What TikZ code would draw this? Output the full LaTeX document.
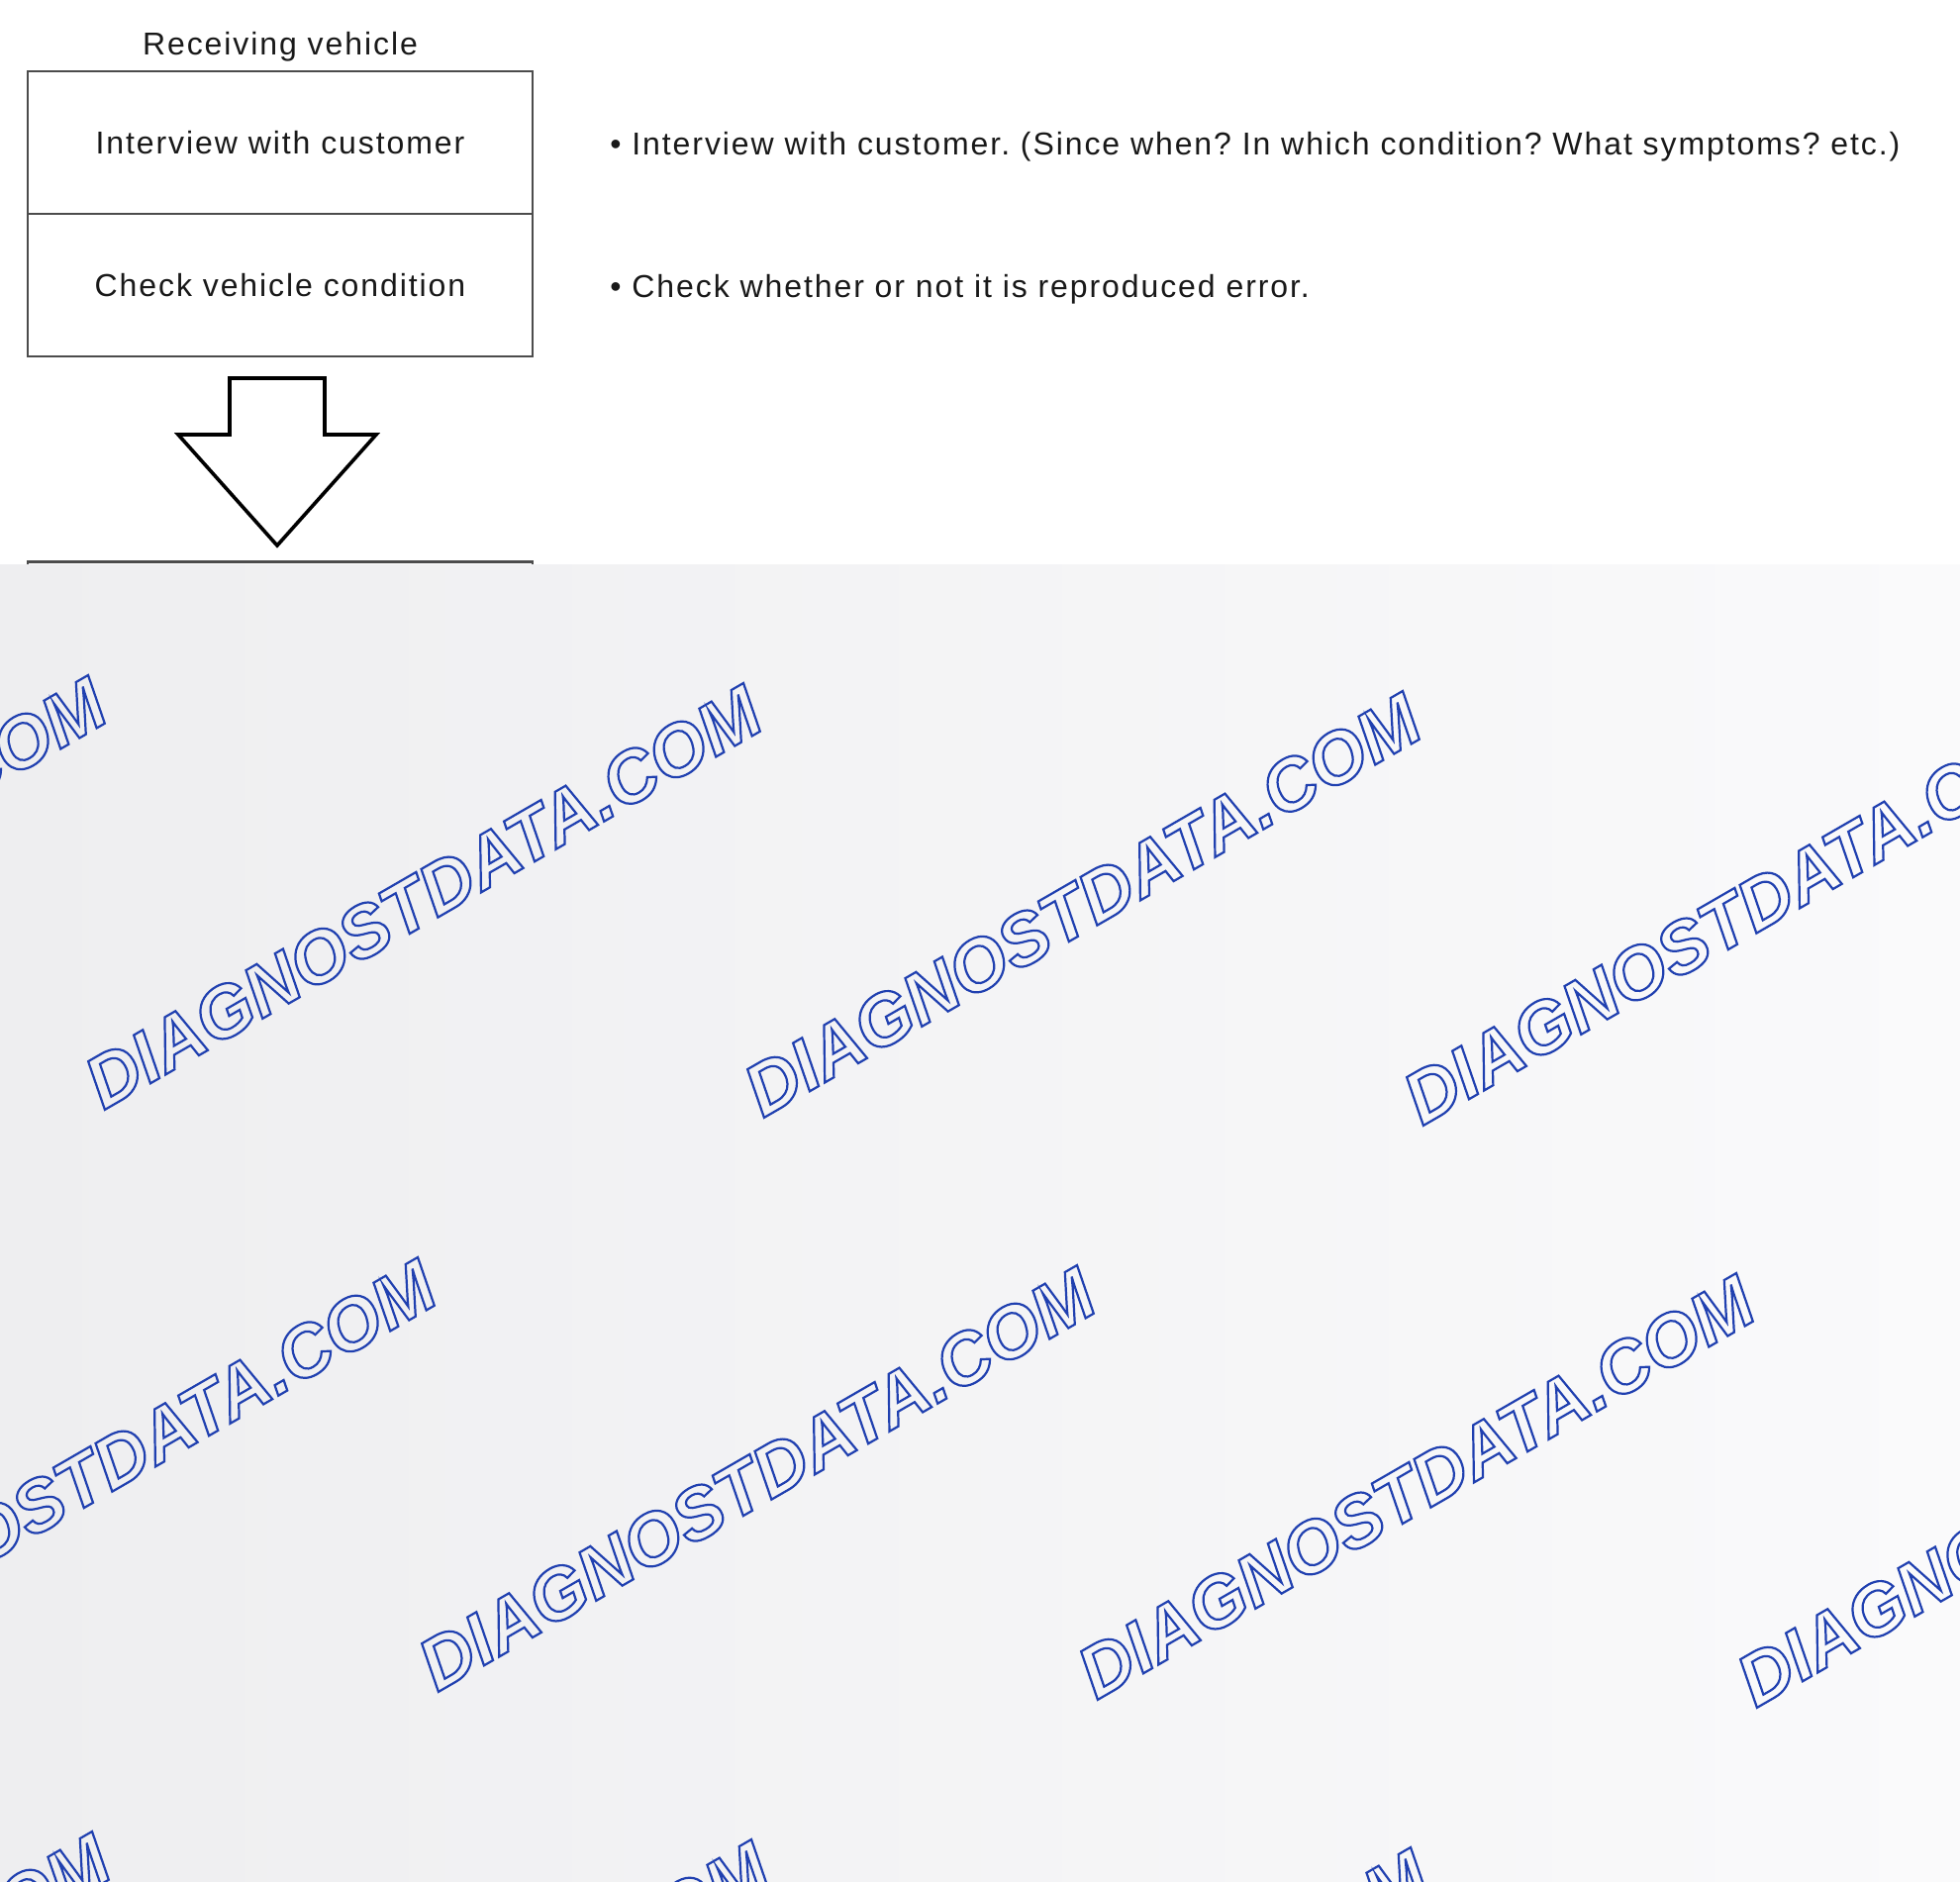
\documentclass[tikz,border=0pt]{standalone}
\usepackage{fontspec}
\setmainfont{Liberation Sans}[LetterSpace=6]
\newfontfamily\wmfont{Liberation Sans}
\usetikzlibrary{positioning}
\frenchspacing

\definecolor{wmblue}{RGB}{32,64,176}
\definecolor{bgleft}{RGB}{238,238,240}
\definecolor{bgright}{RGB}{250,250,251}

% outlined letters (stroke only)
\newcommand\outlinetext[1]{\special{pdf:literal direct 1 Tr 1.1 w}#1\special{pdf:literal direct 0 Tr}}

\tikzset{
    stepbox/.style={draw=black!70, line width=1.4pt, minimum width=255pt, minimum height=72pt,
        inner sep=0pt, font=\fontsize{16}{18}\selectfont, text=black!90},
    note/.style={anchor=base west, inner sep=0pt, font=\fontsize{16}{18}\selectfont, text=black!90},
    watermark/.style={anchor=base, inner sep=0pt, rotate=30, text=wmblue,
        font=\wmfont\bfseries\itshape\fontsize{36.8}{40}\selectfont}
}

\begin{document}
\begin{tikzpicture}[x=0.5pt, y=-0.5pt]

\useasboundingbox (0,0) rectangle (1980,1900);
\fill[white] (0,0) rectangle (1980,1900);

% Receiving vehicle
\node[note, anchor=base] (title) at (283,55.5) {Receiving vehicle};
\node[stepbox] (interview) at (283,144) {Interview with customer};
\node[stepbox] (check) at (283,288) {Check vehicle condition};

% Notes beside the steps
\node[note] (note1) at (616,156) {• Interview with customer. (Since when? In which condition? What symptoms? etc.)};
\node[note] (note2) at (616,300) {• Check whether or not it is reproduced error.};

% Flow arrow
\coordinate (flowtop) at (280,382);
\draw[line width=1.8pt, line join=miter] (flowtop) ++(-48,0) -- ++(96,0) -- ++(0,57) -- ++(52,0)
    -- (280,551) -- (180,439) -- ++(52,0) -- cycle;

% Next step (covered)
\node[stepbox, anchor=north] (nextstep) at (283,566) {};

% Watermark layer
\begin{scope}
\clip (0,570) rectangle (1980,1900);
\shade[left color=bgleft, right color=bgright] (0,570) rectangle (1980,1900);
\foreach \bx/\by [count=\k] in {-222/920, 440/928, 1106/936, 1772/944,
    111/1508, 777/1516, 1443/1524, 2109/1532,
    -218/2088, 448/2096, 1114/2104}
{
    \node[watermark] (wmark\k) at (\bx,\by) {\outlinetext{DIAGNOSTDATA.COM}};
}
\end{scope}

\end{tikzpicture}
\end{document}
